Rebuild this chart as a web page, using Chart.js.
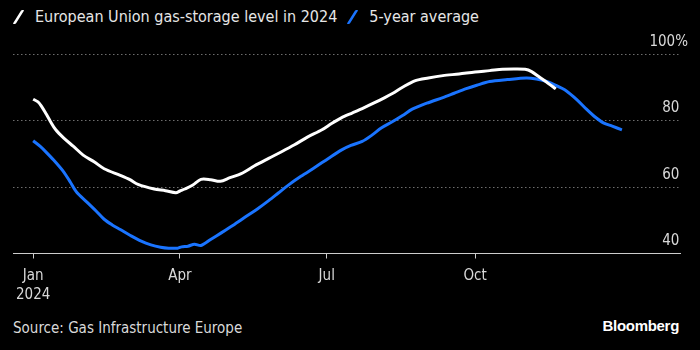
<!DOCTYPE html>
<html>
<head>
<meta charset="utf-8">
<script src="https://cdn.jsdelivr.net/npm/chart.js@4/dist/chart.umd.min.js"></script>
<style>
  body { margin: 0; background: #000; width: 700px; height: 350px; overflow: hidden; position: relative;
         font-family: "DejaVu Sans Condensed", "Liberation Sans Narrow", sans-serif; }
  #legend { position: absolute; left: 12px; top: 7px; color: #e6e6e6; font-size: 16px; white-space: nowrap; }
  #legend span.key { display: inline-block; width: 3px; height: 14px; border-radius: 1px; transform: skewX(-32deg);
         vertical-align: -2px; margin: 0 15px 0 5px; }
  #wrap { position: absolute; left: 0; top: 30px; width: 700px; height: 282px; }
  #source { position: absolute; left: 13px; top: 319px; color: #d9d9d9; font-size: 15px; }
  #brand { position: absolute; right: 21px; top: 317px; color: #fff; font-size: 15px; font-weight: bold;
           font-family: "Liberation Sans", Arial, sans-serif; letter-spacing: -0.3px; }
</style>
</head>
<body>
<div id="legend"><span class="key" style="background:#fff"></span>European Union gas-storage level in 2024<span class="key" style="background:#1a74ff;margin-left:14px"></span>5-year average</div>
<div id="wrap"><canvas id="storage"></canvas></div>
<div id="source">Source: Gas Infrastructure Europe</div>
<div id="brand">Bloomberg</div>
<script>
// day of year (0 = 1 Jan) and storage level in %
const days2024 = [0, 3, 5, 8, 10.6, 14, 19, 25, 31, 38, 44, 54, 60, 65, 75, 82, 88.5, 91, 94, 99, 104, 110, 116, 122, 129, 137, 146, 154, 162, 170, 179, 185, 191, 198, 204, 211, 218, 223, 229, 237, 245, 254, 264, 274, 283, 291, 298, 305, 309, 314, 319, 324];
const level2024 = [86.4, 85.6, 84.4, 82.0, 79.8, 77.2, 74.7, 72.2, 69.6, 67.5, 65.5, 63.5, 62.2, 60.8, 59.4, 58.9, 58.3, 58.8, 59.4, 60.6, 62.3, 62.2, 61.7, 62.8, 64.0, 66.3, 68.6, 70.6, 72.7, 75.0, 77.2, 79.1, 80.8, 82.3, 83.6, 85.2, 86.9, 88.2, 90.0, 92.0, 92.8, 93.5, 94.0, 94.6, 95.0, 95.4, 95.5, 95.4, 94.7, 93.0, 91.3, 89.5];

const daysAvg = [0, 4.4, 8, 12.7, 19, 23, 27, 33.5, 39, 44, 49, 54, 60, 67, 73, 79, 84, 89.6, 92, 96, 100, 104, 110, 116.6, 124, 131, 139, 146, 152, 158, 166, 175, 183, 191, 197, 204, 210, 216, 222.6, 229, 235, 244, 254, 261, 268, 275, 283, 294, 305.7, 312, 318, 324, 330.6, 337, 343, 348, 353.5, 359, 365];
const levelAvg = [73.9, 72.2, 70.5, 68.1, 64.5, 61.5, 58.4, 55.4, 52.8, 50.3, 48.6, 47.2, 45.5, 43.7, 42.6, 41.9, 41.6, 41.6, 42.0, 42.2, 42.8, 42.4, 44.2, 46.2, 48.5, 50.8, 53.4, 55.9, 58.2, 60.5, 63.2, 66.0, 68.6, 71.1, 72.5, 73.7, 75.6, 77.8, 79.6, 81.5, 83.4, 85.2, 86.9, 88.2, 89.5, 90.6, 91.7, 92.3, 92.8, 92.5, 91.8, 90.6, 88.9, 86.3, 83.4, 81.2, 79.3, 78.3, 77.2];

const monthTicks = [0, 91, 182, 274];
const monthLabels = [['Jan', '2024'], 'Apr', 'Jul', 'Oct'];
const yTicks = [40, 60, 80, 100];

const toPoints = (xs, ys) => xs.map((d, i) => ({ x: d, y: ys[i] }));

const ctx = document.getElementById('storage').getContext('2d');

const myChart = new Chart(ctx, {
    type: 'line',
    data: {
        datasets: [{
            label: 'European Union gas-storage level in 2024',
            data: toPoints(days2024, level2024),
            borderColor: '#ffffff',
            borderWidth: 3,
            pointRadius: 0,
            tension: 0.3
        }, {
            label: '5-year average',
            data: toPoints(daysAvg, levelAvg),
            borderColor: '#1a74ff',
            borderWidth: 3,
            pointRadius: 0,
            tension: 0.3
        }]
    },
    options: {
        responsive: true,
        maintainAspectRatio: false,
        animation: false,
        layout: { padding: { left: 13, right: 4, top: 24, bottom: 0 } },
        plugins: { legend: { display: false }, tooltip: { enabled: false } },
        scales: {
            x: {
                type: 'linear',
                min: -12.5,
                max: 401,
                afterBuildTicks: axis => { axis.ticks = monthTicks.map(v => ({ value: v })); },
                ticks: {
                    color: '#d9d9d9',
                    padding: 8,
                    maxRotation: 0,
                    autoSkip: false,
                    font: { family: '"DejaVu Sans Condensed", sans-serif', size: 15, lineHeight: 1.25 },
                    callback: v => monthLabels[monthTicks.indexOf(v)]
                },
                grid: { drawOnChartArea: false, tickLength: 5, color: '#cccccc' },
                border: { display: true, color: '#cccccc', width: 1 }
            },
            y: {
                position: 'right',
                min: 40,
                max: 100,
                afterBuildTicks: axis => { axis.ticks = yTicks.map(v => ({ value: v })); },
                ticks: {
                    mirror: true,
                    padding: 8,
                    labelOffset: -12,
                    color: '#d9d9d9',
                    font: { family: '"DejaVu Sans Condensed", sans-serif', size: 15 },
                    callback: v => v === 100 ? '100%' : v + '  '
                },
                grid: {
                    drawTicks: false,
                    color: c => c.tick && c.tick.value === 40 ? 'rgba(0,0,0,0)' : '#6e6e6e',
                    lineWidth: 1
                },
                border: { display: false, dash: [1.5, 2.5] }
            }
        }
    }
});
</script>
</body>
</html>
